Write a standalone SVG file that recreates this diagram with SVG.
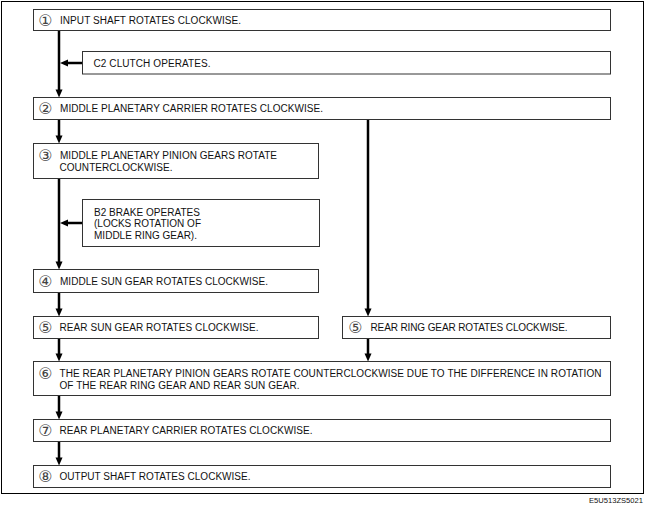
<svg xmlns="http://www.w3.org/2000/svg" width="645" height="515" viewBox="0 0 645 515">
<style>
.box{fill:#fff;stroke:#333;stroke-width:1}
.t{font-family:"Liberation Sans",Arial,sans-serif;font-size:10px;fill:#111}
.n{font-family:"DejaVu Sans",sans-serif;font-size:16px;fill:#444;text-anchor:middle}
.c{stroke:#000;stroke-width:2.5;fill:none;marker-end:url(#ah)}
</style>
<defs>
<marker id="ah" markerUnits="userSpaceOnUse" markerWidth="9" markerHeight="8" refX="2" refY="3.5" orient="auto" overflow="visible">
<path d="M0,0 L8,3.5 L0,7 z" fill="#000"/>
</marker>
</defs>
<rect x="1.5" y="1.5" width="642" height="492" fill="#fff" stroke="#000" stroke-width="1"/>
<g id="connectors">
<line class="c" x1="59" y1="30.5" x2="59" y2="91.5"/>
<line class="c" x1="82.5" y1="63" x2="66" y2="63"/>
<line class="c" x1="59" y1="119.5" x2="59" y2="137.5"/>
<line class="c" x1="368" y1="119.5" x2="368" y2="310.5"/>
<line class="c" x1="59" y1="178.5" x2="59" y2="263.5"/>
<line class="c" x1="82.5" y1="223" x2="66" y2="223"/>
<line class="c" x1="59" y1="292.5" x2="59" y2="310.5"/>
<line class="c" x1="59" y1="338.5" x2="59" y2="355.5"/>
<line class="c" x1="368" y1="338.5" x2="368" y2="355.5"/>
<line class="c" x1="59" y1="395.5" x2="59" y2="413.5"/>
<line class="c" x1="59" y1="441.5" x2="59" y2="459.5"/>
</g>
<g id="n1">
<rect class="box" x="33.5" y="9.5" width="577" height="21"/>
<text class="n" x="45.5" y="25.5">①</text>
<text class="t" x="60" y="23.5" textLength="181">INPUT SHAFT ROTATES CLOCKWISE.</text>
</g>
<g id="c2">
<rect class="box" x="82.5" y="51.5" width="528" height="22.5"/>
<text class="t" x="93.5" y="67" textLength="117">C2 CLUTCH OPERATES.</text>
</g>
<g id="n2">
<rect class="box" x="33.5" y="97.5" width="577" height="22"/>
<text class="n" x="45.5" y="114">②</text>
<text class="t" x="60" y="112" textLength="263">MIDDLE PLANETARY CARRIER ROTATES CLOCKWISE.</text>
</g>
<g id="n3">
<rect class="box" x="33.5" y="143.5" width="285" height="35"/>
<text class="n" x="45.5" y="160.5">③</text>
<text class="t" x="60" y="158.5" textLength="217">MIDDLE PLANETARY PINION GEARS ROTATE</text>
<text class="t" x="59.5" y="171" textLength="113">COUNTERCLOCKWISE.</text>
</g>
<g id="b2">
<rect class="box" x="82.5" y="199.5" width="237" height="47"/>
<text class="t" x="94" y="215.5" textLength="106">B2 BRAKE OPERATES</text>
<text class="t" x="94" y="227.3" textLength="107">(LOCKS ROTATION OF</text>
<text class="t" x="94" y="239" textLength="103">MIDDLE RING GEAR).</text>
</g>
<g id="n4">
<rect class="box" x="33.5" y="269.5" width="285" height="23"/>
<text class="n" x="45.5" y="286.5">④</text>
<text class="t" x="60" y="284.5" textLength="208">MIDDLE SUN GEAR ROTATES CLOCKWISE.</text>
</g>
<g id="n5a">
<rect class="box" x="33.5" y="316.5" width="285" height="22"/>
<text class="n" x="45.5" y="333">⑤</text>
<text class="t" x="59.5" y="331" textLength="199">REAR SUN GEAR ROTATES CLOCKWISE.</text>
</g>
<g id="n5b">
<rect class="box" x="342.5" y="316.5" width="268" height="22"/>
<text class="n" x="355.5" y="333">⑤</text>
<text class="t" x="370.5" y="331" textLength="197">REAR RING GEAR ROTATES CLOCKWISE.</text>
</g>
<g id="n6">
<rect class="box" x="33.5" y="361.5" width="577" height="34"/>
<text class="n" x="45.5" y="378.5">⑥</text>
<text class="t" x="59.5" y="376.5" textLength="542">THE REAR PLANETARY PINION GEARS ROTATE COUNTERCLOCKWISE DUE TO THE DIFFERENCE IN ROTATION</text>
<text class="t" x="59.5" y="388.5" textLength="240">OF THE REAR RING GEAR AND REAR SUN GEAR.</text>
</g>
<g id="n7">
<rect class="box" x="33.5" y="419.5" width="577" height="22"/>
<text class="n" x="45.5" y="436">⑦</text>
<text class="t" x="59.5" y="434" textLength="253">REAR PLANETARY CARRIER ROTATES CLOCKWISE.</text>
</g>
<g id="n8">
<rect class="box" x="33.5" y="465.5" width="577" height="22"/>
<text class="n" x="45.5" y="482">⑧</text>
<text class="t" x="59.5" y="480" textLength="191">OUTPUT SHAFT ROTATES CLOCKWISE.</text>
</g>
<text x="589" y="503" font-family="Liberation Sans, Arial, sans-serif" font-size="7.5" fill="#111" textLength="54" lengthAdjust="spacingAndGlyphs">E5U513ZS5021</text>
</svg>
